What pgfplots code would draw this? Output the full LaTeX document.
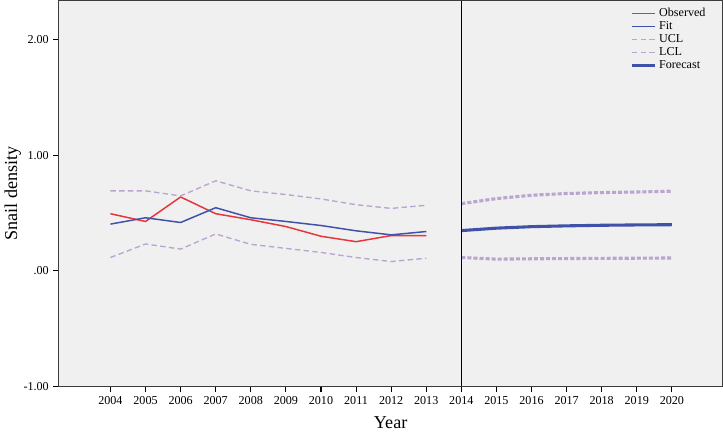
\documentclass[border=0pt]{standalone}
\usepackage{fontspec}
\setmainfont{Liberation Serif}
\usepackage{pgfplots}
\pgfplotsset{compat=1.18}

\definecolor{obsred}{RGB}{232,52,58}
\definecolor{fitblue}{RGB}{64,82,168}
\definecolor{clpurple}{RGB}{186,164,208}
\definecolor{bggray}{RGB}{240,240,240}
\definecolor{framegray}{RGB}{60,60,60}

\begin{document}
\begin{tikzpicture}
\begin{axis}[
  scale only axis,
  width=493.5pt, height=287pt,
  xmin=2002.53, xmax=2021.44,
  ymin=-1, ymax=2.34,
  axis background/.style={fill=bggray},
  axis line style={framegray, line width=0.8pt},
  xtick={2004,...,2020},
  ytick={-1,0,1,2},
  yticklabels={-1.00,.00,1.00,2.00},
  /pgf/number format/assume math mode=true,
  /pgf/number format/1000 sep={},
  tick pos=left, tick align=outside,
  major tick length=4pt,
  tick style={black, line width=0.8pt},
  tick label style={font=\fontsize{9}{10}\selectfont},
  xlabel={Year}, ylabel={Snail density},
  label style={font=\fontsize{13.5}{15}\selectfont},
  xlabel style={yshift=-2pt},
  ylabel style={yshift=-5pt},
  legend style={at={(0.985,0.995)}, anchor=north east, draw=none, fill=none,
    font=\fontsize{9}{9.5}\selectfont, row sep=-1.8pt},
  legend cell align=left,
]
\addplot[obsred, line width=1.1pt] coordinates {
  (2004,0.495) (2005,0.428) (2006,0.640) (2007,0.495) (2008,0.443)
  (2009,0.384) (2010,0.300) (2011,0.253) (2012,0.306) (2013,0.306)};
\addlegendentry{Observed}
\addplot[fitblue, line width=1.1pt] coordinates {
  (2004,0.405) (2005,0.460) (2006,0.419) (2007,0.547) (2008,0.460)
  (2009,0.428) (2010,0.393) (2011,0.347) (2012,0.312) (2013,0.341)};
\addlegendentry{Fit}
\addplot[clpurple, line width=1.0pt, dash pattern=on 4pt off 2.5pt] coordinates {
  (2004,0.693) (2005,0.693) (2006,0.649) (2007,0.780) (2008,0.693)
  (2009,0.661) (2010,0.623) (2011,0.573) (2012,0.541) (2013,0.568)};
\addlegendentry{UCL}
\addplot[clpurple, line width=1.0pt, dash pattern=on 4pt off 2.5pt] coordinates {
  (2004,0.116) (2005,0.233) (2006,0.189) (2007,0.320) (2008,0.230)
  (2009,0.195) (2010,0.160) (2011,0.116) (2012,0.081) (2013,0.110)};
\addlegendentry{LCL}
\addplot[fitblue, line width=2.3pt] coordinates {
  (2014,0.349) (2015,0.370) (2016,0.383) (2017,0.390) (2018,0.395)
  (2019,0.398) (2020,0.400)};
\addlegendentry{Forecast}
\addplot[clpurple, line width=2.3pt, dash pattern=on 3pt off 1.5pt, forget plot] coordinates {
  (2014,0.582) (2015,0.626) (2016,0.655) (2017,0.670) (2018,0.678)
  (2019,0.683) (2020,0.690)};
\addplot[clpurple, line width=2.3pt, dash pattern=on 3pt off 1.5pt, forget plot] coordinates {
  (2014,0.116) (2015,0.102) (2016,0.105) (2017,0.107) (2018,0.109)
  (2019,0.110) (2020,0.112)};
\addplot[black, line width=0.9pt, forget plot] coordinates {(2014,-1) (2014,2.34)};
\end{axis}
\end{tikzpicture}
\end{document}
